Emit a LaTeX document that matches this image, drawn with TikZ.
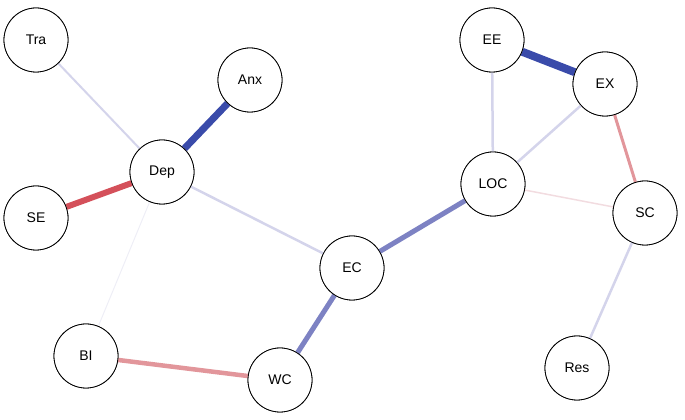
\documentclass[tikz,border=0pt]{standalone}
\usepackage{fontspec}
\setmainfont{Liberation Sans}
\begin{document}
\begin{tikzpicture}[x=1pt,y=1pt,
  nd/.style={circle,draw=black,line width=0.8pt,fill=white,minimum size=64pt,inner sep=0pt,font=\fontsize{14}{16}\selectfont},
  e/.style={line width=#1}]
\useasboundingbox (0,0) rectangle (685,420);
\definecolor{dblue}{RGB}{58,75,170}
\definecolor{mblue}{RGB}{125,130,195}
\definecolor{lblue}{RGB}{212,212,235}
\definecolor{vlblue}{RGB}{238,238,246}
\definecolor{dred}{RGB}{212,80,90}
\definecolor{mred}{RGB}{226,150,155}
\definecolor{lred}{RGB}{242,220,224}
\coordinate (pTra) at (36,380);
\node[nd] (Tra) at (36,380) {Tra};
\node[nd] (Anx) at (250,340) {Anx};
\node[nd] (Dep) at (162,248) {Dep};
\node[nd] (SE) at (36,202) {SE};
\node[nd] (EC) at (352,152) {EC};
\node[nd] (BI) at (86,64) {BI};
\node[nd] (WC) at (280,40) {WC};
\node[nd] (EE) at (492,380) {EE};
\node[nd] (EX) at (605,336) {EX};
\node[nd] (LOC) at (493,236) {LOC};
\node[nd] (SC) at (645,207) {SC};
\node[nd] (Res) at (577,52) {Res};
\begin{scope}[on background layer/.try]
\end{scope}
\draw[lblue,e=2pt] (Tra) -- (Dep);
\draw[dblue,e=7pt] (Anx) -- (Dep);
\draw[dred,e=6pt] (SE) -- (Dep);
\draw[lblue,e=2.5pt] (Dep) -- (EC);
\draw[vlblue,e=1pt] (Dep) -- (BI);
\draw[mred,e=4.5pt] (BI) -- (WC);
\draw[mblue,e=5pt] (EC) -- (WC);
\draw[mblue,e=5pt] (EC) -- (LOC);
\draw[dblue,e=8pt] (EE) -- (EX);
\draw[lblue,e=2.5pt] (EE) -- (LOC);
\draw[lblue,e=2.5pt] (EX) -- (LOC);
\draw[mred,e=3pt] (EX) -- (SC);
\draw[lred,e=1.5pt] (LOC) -- (SC);
\draw[lblue,e=2.5pt] (SC) -- (Res);
\foreach \n in {Tra,Anx,Dep,SE,EC,BI,WC,EE,EX,LOC,SC,Res}{\node[nd] at (\n) {\n};}
\end{tikzpicture}
\end{document}
